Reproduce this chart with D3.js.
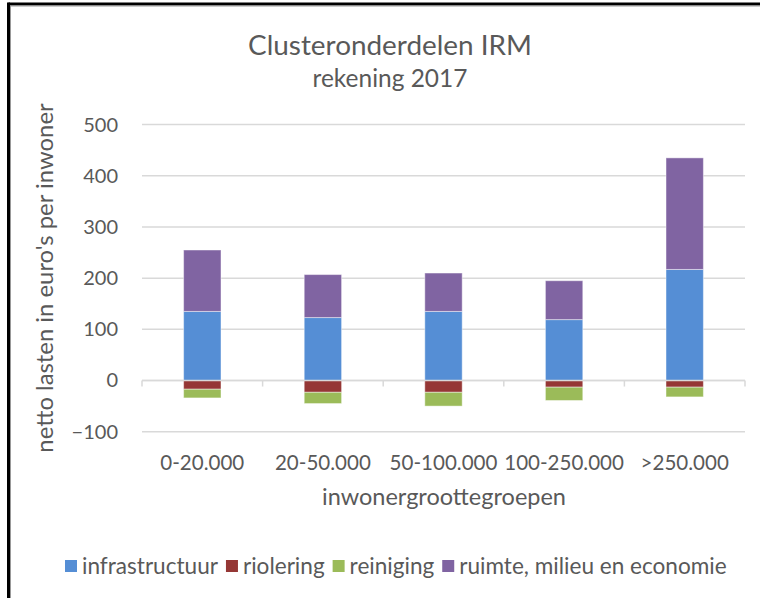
<!DOCTYPE html>
<html><head><meta charset="utf-8">
<script src="https://cdn.jsdelivr.net/npm/d3@7"></script>
<style>
html,body{margin:0;padding:0;background:#fff;}
svg{display:block;}
text{font-family:Lato,"Open Sans",sans-serif;fill:#595959;}
</style></head>
<body>
<svg id="chart" width="760" height="598"></svg>
<script>
const categories = ["0-20.000","20-50.000","50-100.000","100-250.000",">250.000"];
const seriesNames = ["infrastructuur","riolering","reiniging","ruimte, milieu en economie"];
const infrastructuur = [135, 123, 135, 119, 217];
const riolering = [-17, -23, -23, -13, -13];
const reiniging = [-17, -22, -27, -26, -19];
const ruimte = [120, 84, 75, 76, 218];
const colors = ["#558ED5","#953735","#9BBB59","#8064A2"];
const yTicks = [-100, 0, 100, 200, 300, 400, 500];
const title = "Clusteronderdelen IRM";
const subtitle = "rekening 2017";
const yTitle = "netto lasten in euro's per inwoner";
const xTitle = "inwonergroottegroepen";

const svg = d3.select("#chart");
const FONT = 'Lato, "Open Sans", sans-serif';
const ctx = document.createElement("canvas").getContext("2d");
function measure(text, size){
  ctx.font = size + "px " + FONT;
  return ctx.measureText(text).width;
}
function sizeFor(text, width){
  return 100 * width / measure(text, 100);
}

// frame
svg.append("rect").attr("x",0).attr("y",0).attr("width",760).attr("height",598).attr("fill","#fff");
svg.append("line").attr("x1",8.5).attr("x2",760).attr("y1",4).attr("y2",4).attr("stroke","#000").attr("stroke-width",3);
svg.append("line").attr("x1",8.5).attr("x2",8.5).attr("y1",2.5).attr("y2",598).attr("stroke","#000").attr("stroke-width",3);
svg.append("line").attr("x1",10).attr("x2",760).attr("y1",6).attr("y2",6).attr("stroke","#999").attr("stroke-width",1);
svg.append("line").attr("x1",10.5).attr("x2",10.5).attr("y1",6).attr("y2",598).attr("stroke","#999").attr("stroke-width",1);

const plotL = 142, plotR = 745;
const x = d3.scaleBand().domain(categories).range([plotL, plotR]).paddingInner(0.69).paddingOuter(0.345);
const y = d3.scaleLinear().domain([-100, 500]).range([431.7, 124.6]);

// gridlines
svg.append("g").selectAll("line").data(yTicks).join("line")
  .attr("x1", plotL).attr("x2", plotR)
  .attr("y1", d => y(d)).attr("y2", d => y(d))
  .attr("stroke", "#d9d9d9").attr("stroke-width", 1.5);

// y axis labels
const yAxis = d3.axisLeft(y).tickValues(yTicks).tickSize(0).tickPadding(24).tickFormat(d3.format("d"));
const gy = svg.append("g").attr("transform", `translate(${plotL},0)`).call(yAxis);
gy.select(".domain").remove();
gy.selectAll("text").attr("font-family", FONT).attr("font-size", 20).attr("fill", "#595959");

// stacked bars
const table = categories.map((c, i) => ({
  cat: c,
  [seriesNames[0]]: infrastructuur[i],
  [seriesNames[1]]: riolering[i],
  [seriesNames[2]]: reiniging[i],
  [seriesNames[3]]: ruimte[i]
}));
const stack = d3.stack().keys(seriesNames).offset(d3.stackOffsetDiverging)(table);
svg.append("g").selectAll("g").data(stack).join("g")
  .attr("fill", (d, i) => colors[i])
  .selectAll("rect").data(d => d).join("rect")
  .attr("x", d => x(d.data.cat))
  .attr("width", x.bandwidth())
  .attr("y", d => y(Math.max(d[0], d[1])))
  .attr("height", d => Math.abs(y(d[0]) - y(d[1])))
  .attr("stroke", "#ffffff").attr("stroke-opacity", 0.45).attr("stroke-width", 1);

// x axis line at 0 with ticks between categories
const gx = svg.append("g").attr("transform", `translate(0,${y(0)})`);
gx.append("line").attr("x1", plotL).attr("x2", plotR).attr("y1", 0).attr("y2", 0)
  .attr("stroke", "#d9d9d9").attr("stroke-width", 1.5);
const boundaries = d3.range(categories.length + 1).map(i => plotL + i * (plotR - plotL) / categories.length);
gx.selectAll("line.tick").data(boundaries).join("line").attr("class","tick")
  .attr("x1", d => d).attr("x2", d => d).attr("y1", 0).attr("y2", 6)
  .attr("stroke", "#d9d9d9").attr("stroke-width", 1.5);

// category labels
const catSize = sizeFor("0-20.000", 84);
svg.append("g").selectAll("text").data(categories).join("text")
  .attr("x", d => x(d) + x.bandwidth() / 2)
  .attr("y", 463).attr("dy", "0.35em")
  .attr("text-anchor", "middle")
  .attr("font-size", catSize)
  .text(d => d);

// titles
svg.append("text").attr("x", 390).attr("y", 45).attr("dy", "0.35em").attr("text-anchor", "middle")
  .attr("font-size", sizeFor(title, 284)).text(title);
svg.append("text").attr("x", 390).attr("y", 78).attr("dy", "0.35em").attr("text-anchor", "middle")
  .attr("font-size", sizeFor(subtitle, 155)).text(subtitle);
svg.append("text").attr("transform", "translate(45,278) rotate(-90)").attr("dy", "0.35em").attr("text-anchor", "middle")
  .attr("font-size", sizeFor(yTitle, 350)).text(yTitle);
svg.append("text").attr("x", 444).attr("y", 497).attr("dy", "0.35em").attr("text-anchor", "middle")
  .attr("font-size", sizeFor(xTitle, 244)).text(xTitle);

// legend: laid out sequentially, total span from 65 to 727
const sq = 12, gapIn = 5, gapOut = 8, legStart = 65, legEnd = 727;
const fixed = seriesNames.length * (sq + gapIn) + (seriesNames.length - 1) * gapOut;
const legSize = sizeFor(seriesNames.join(""), legEnd - legStart - fixed);
let cx = legStart;
const legPos = seriesNames.map(n => { const p = cx; cx += sq + gapIn + measure(n, legSize) + gapOut; return p; });
const leg = svg.append("g").selectAll("g").data(seriesNames).join("g")
  .attr("transform", (d, i) => `translate(${legPos[i]},566)`);
leg.append("rect").attr("x", 0).attr("y", -6).attr("width", sq).attr("height", sq)
  .attr("fill", (d, i) => colors[i]);
leg.append("text").attr("x", sq + gapIn).attr("dy", "0.35em").attr("font-size", legSize).text(d => d);
</script>
</body></html>
